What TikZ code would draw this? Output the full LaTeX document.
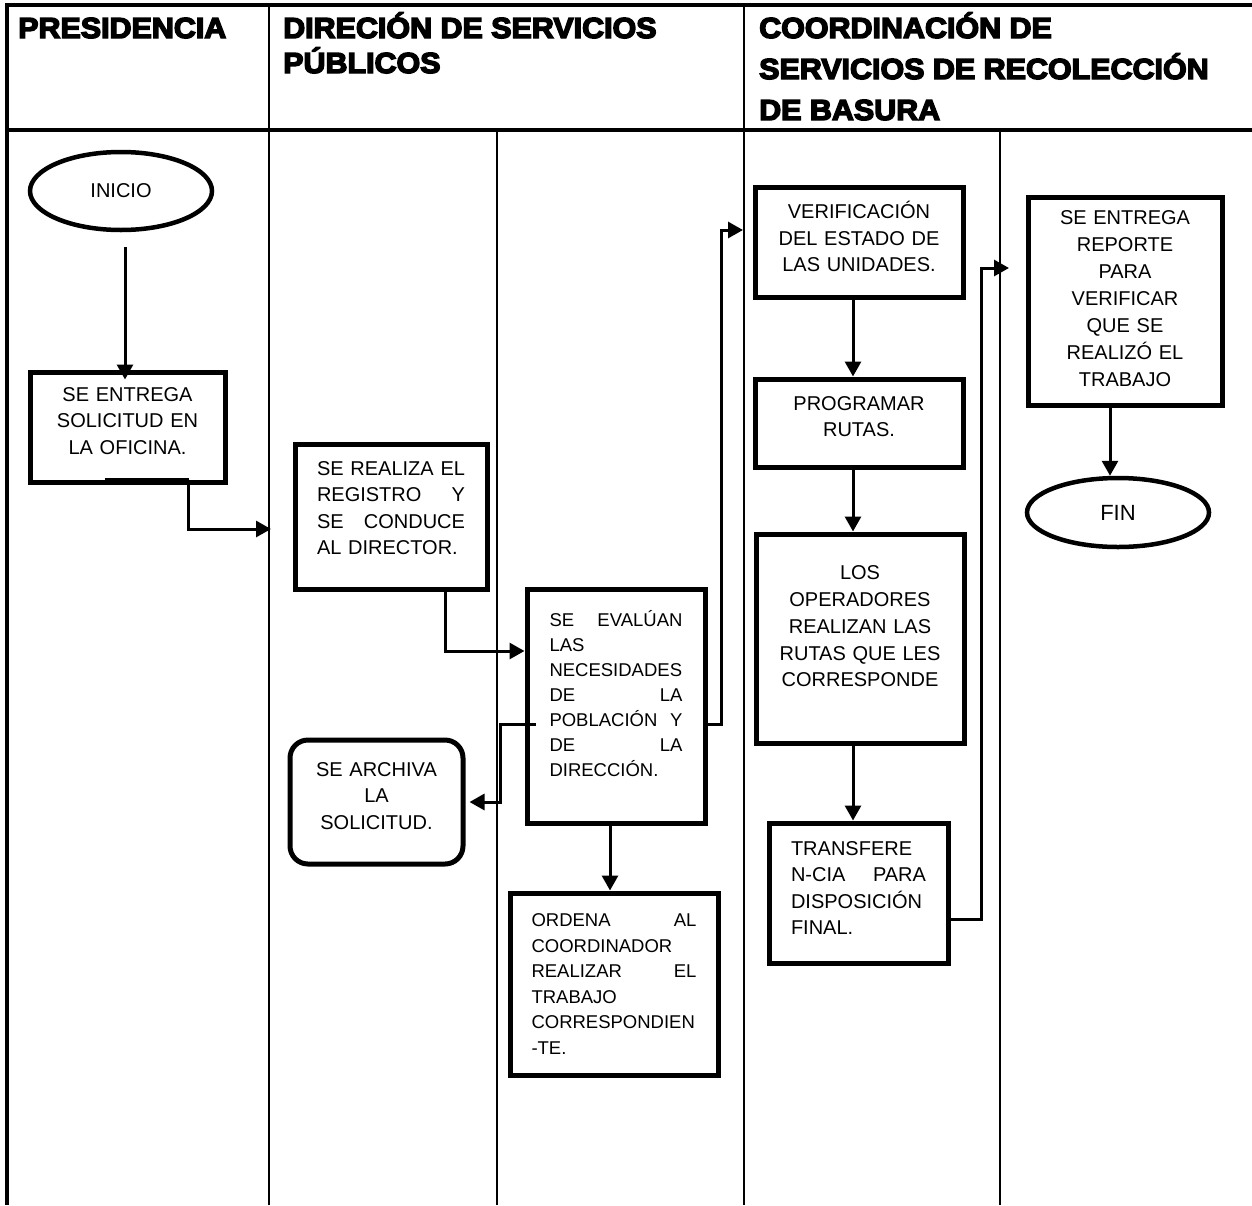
\documentclass[tikz,border=0pt]{standalone}
\usepackage{fontspec}
\setmainfont{Liberation Sans}
\newfontfamily\hdrfont{Liberation Sans}[UprightFont={* Bold}, FakeStretch=1.05, FakeBold=5]
\usetikzlibrary{arrows.meta,calc,shapes.geometric}
\tikzset{
  proc/.style={draw, line width=5pt, rectangle, inner sep=0pt, align=left,
    font=\fontsize{20}{26.5}\selectfont},
  procj/.style={proc, font=\fontsize{18.5}{25}\selectfont},
  term/.style={draw, ellipse, line width=4.5pt, inner sep=0pt},
  conn/.style={line width=3pt, -{Triangle[length=15pt,width=16pt]}},
  lane/.style={line width=2.5pt},
  frame/.style={line width=3.5pt},
  hdr/.style={anchor=base west, inner sep=0pt, font=\hdrfont\fontsize{29}{34}\selectfont},
  lift/.style={execute at end node={\par\vspace*{#1pt}}},
}
\begin{document}
\begin{tikzpicture}[x=1pt,y=-1pt]
\useasboundingbox (0,0) rectangle (1252,1205);
% table frame and lanes
\draw[frame] (7,1205) -- (7,5) -- (1252,5);
\draw[frame] (7,130) -- (1252,130);
\draw[lane] (269,5) -- (269,1205);
\draw[lane] (744,5) -- (744,1205);
\draw[lane] (497,130) -- (497,1205);
\draw[lane] (1000,130) -- (1000,1205);
% headers
\node[hdr] (hA)  at (18,38)  {PRESIDENCIA};
\node[hdr] (hB1) at (283,38) {DIRECIÓN DE SERVICIOS};
\node[hdr] (hB2) at (283,73) {PÚBLICOS};
\node[hdr] (hC1) at (759,38) {COORDINACIÓN DE};
\node[hdr] (hC2) at (759,79) {SERVICIOS DE RECOLECCIÓN};
\node[hdr] (hC3) at (759,120) {DE BASURA};
% nodes
\node[term, minimum width=182pt, minimum height=78pt, font=\fontsize{20}{24}\selectfont] (inicio) at (121,191) {INICIO};
\node[proc, minimum width=195pt, minimum height=110pt, text width=190pt, align=center, lift=12] (box1) at (127.5,427)
  {SE ENTREGA\\SOLICITUD EN\\LA OFICINA.};
\node[proc, minimum width=192pt, minimum height=145pt, text width=148pt, lift=17] (box2) at (391,516.5)
  {SE\hfill REALIZA\hfill EL\\REGISTRO\hfill Y\\SE\hfill CONDUCE\\AL DIRECTOR.};
\node[procj, minimum width=178pt, minimum height=234pt, text width=133pt, lift=24] (box3) at (616,706)
  {SE\hfill EVALÚAN\\LAS\\NECESIDADES\\DE\hfill LA\\POBLACIÓN\hfill Y\\DE\hfill LA\\DIRECCIÓN.};
\node[procj, minimum width=208pt, minimum height=182pt, text width=165pt, font=\fontsize{18.5}{25.5}\selectfont] (box4) at (614,984)
  {ORDENA\hfill AL\\COORDINADOR\\REALIZAR\hfill EL\\TRABAJO\\CORRESPONDIEN\\-TE.};
\node[proc, rounded corners=18pt, minimum width=173pt, minimum height=124pt, text width=168pt, align=center, lift=12] (archive) at (376.5,802)
  {SE ARCHIVA\\LA\\SOLICITUD.};
\node[proc, minimum width=208pt, minimum height=110pt, text width=200pt, align=center, lift=11] (verif) at (859,242)
  {VERIFICACIÓN\\DEL ESTADO DE\\LAS UNIDADES.};
\node[proc, minimum width=208pt, minimum height=88pt, text width=200pt, align=center, lift=13] (prog) at (859,423)
  {PROGRAMAR\\RUTAS.};
\node[proc, minimum width=208pt, minimum height=209pt, text width=200pt, align=center, lift=24,
  font=\fontsize{20}{26.75}\selectfont] (ops) at (860,638.5)
  {LOS\\OPERADORES\\REALIZAN LAS\\RUTAS QUE LES\\CORRESPONDE};
\node[proc, minimum width=179pt, minimum height=140pt, text width=135pt, lift=10] (trans) at (858.5,893)
  {TRANSFERE\\N-CIA\hfill PARA\\DISPOSICIÓN\\FINAL.};
\node[proc, minimum width=194pt, minimum height=208pt, text width=188pt, align=center, lift=4,
  font=\fontsize{20}{27}\selectfont] (rep) at (1125,301)
  {SE ENTREGA\\REPORTE\\PARA\\VERIFICAR\\QUE SE\\REALIZÓ EL\\TRABAJO};
\node[term, minimum width=182pt, minimum height=69pt, font=\fontsize{22}{26}\selectfont] (fin) at (1118,512.5) {FIN};
% free ends at lane lines
\coordinate (c1) at (271,529);
\coordinate (c2) at (743,230);
\coordinate (c3) at (1009,268);
% connectors
\draw[conn, shorten >=5pt] ([xshift=4pt,yshift=-15pt]inicio.south) -- ([xshift=4pt,yshift=-15pt]inicio.south |- box1.north);
\draw[line width=4pt] ([xshift=-23pt,yshift=5pt]box1.south) -- ([xshift=61pt,yshift=5pt]box1.south);
\draw[conn] ([xshift=61pt,yshift=5pt]box1.south) |- (c1);
\draw[conn] ([xshift=54pt]box2.south) |- ([yshift=55pt]box3.west);
\draw[conn, shorten >=4pt] ([xshift=11pt,yshift=-18pt]box3.west) -- ++(-35,0) |- (archive.east);
\draw[conn] ([yshift=-18pt]box3.east) -- ++(14,0) |- (c2);
\draw[conn] ([xshift=-6pt]box3.south) -- ([xshift=-6pt]box3.south |- box4.north);
\draw[conn] ([xshift=-6pt]verif.south) -- ([xshift=-6pt]verif.south |- prog.north);
\draw[conn] ([xshift=-6pt]prog.south) -- ([xshift=-6pt]prog.south |- ops.north);
\draw[conn] ([xshift=-7pt]ops.south) -- ([xshift=-7pt]ops.south |- trans.north);
\draw[conn] ([yshift=-26pt]trans.east) -- ++(31,0) |- (c3);
\draw[conn] ([xshift=-15pt]rep.south) -- ([xshift=-15pt]rep.south |- fin.north);
\end{tikzpicture}
\end{document}
